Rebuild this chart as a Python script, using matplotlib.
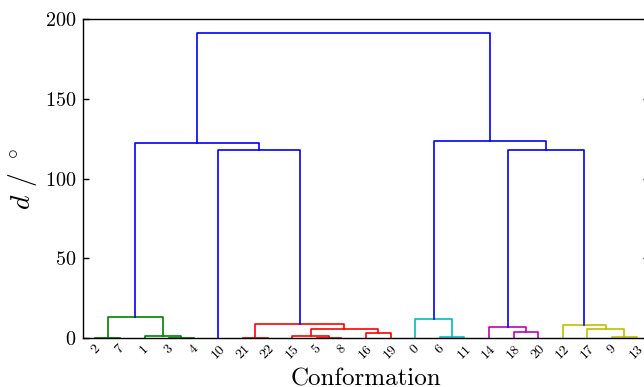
import matplotlib
matplotlib.use("Agg")
import matplotlib.pyplot as plt

plt.rcParams['font.family'] = 'serif'
plt.rcParams['font.serif'] = ['cmr10']
plt.rcParams['mathtext.fontset'] = 'cm'
plt.rcParams['axes.formatter.use_mathtext'] = True

# hierarchical clustering of 23 conformations (scipy-style linkage, ids >= 23 are merges)
n_leaves = 23
left_child = [2, 3, 1, 23, 21, 5, 15, 16, 29, 27, 10, 26,
              6, 0, 18, 14, 9, 17, 12, 38, 36, 34]
right_child = [7, 4, 24, 25, 22, 8, 28, 19, 30, 31, 32, 33,
               11, 35, 20, 37, 13, 39, 40, 41, 42, 43]
heights = [0.4, 0.4, 1.6, 13.2, 0.4, 0.4, 1.6, 3.5, 5.9, 9.2, 117.9, 122.3,
           0.8, 12.4, 3.8, 6.9, 0.8, 5.7, 8.2, 117.9, 123.6, 191.4]
threshold = 100
palette = [(0, 0.5, 0), (1, 0, 0), (0, 0.75, 0.75), (0.75, 0, 0.75), (0.75, 0.75, 0)]
above_color = (0, 0, 1)

root = n_leaves + len(heights) - 1

# leaf order from a left-to-right walk
order = []
def walk(node):
    if node < n_leaves:
        order.append(node)
    else:
        k = node - n_leaves
        walk(left_child[k])
        walk(right_child[k])
walk(root)

xpos = {leaf: 5 + 10 * i for i, leaf in enumerate(order)}
ypos = {leaf: 0.0 for leaf in order}

fig = plt.figure(figsize=(6.44, 3.87), dpi=100)
ax = fig.add_axes([83 / 644, 1 - 338.3 / 387, 566 / 644, (338.3 - 19) / 387])

color_idx = [0]
def draw(node, color):
    if node < n_leaves:
        return
    k = node - n_leaves
    h = heights[k]
    if color is None and h < threshold:
        color = palette[color_idx[0] % len(palette)]
        color_idx[0] += 1
    a, b = left_child[k], right_child[k]
    draw(a, color)
    draw(b, color)
    xpos[node] = (xpos[a] + xpos[b]) / 2
    ypos[node] = h
    c = color if color is not None else above_color
    ax.plot([xpos[a], xpos[a], xpos[b], xpos[b]],
            [ypos[a], h, h, ypos[b]], color=c, lw=1.2, zorder=2)

draw(root, None)

ax.set_xlim(0, 10 * n_leaves)
ax.set_ylim(0, 200)
ax.set_yticks([0, 50, 100, 150, 200])
ax.set_xticks([5 + 10 * i for i in range(n_leaves)])
ax.set_xticklabels([str(l) for l in order], rotation=45, fontsize=10)
ax.tick_params(axis='x', length=0, pad=3)
ax.tick_params(axis='y', direction='in', length=4, width=1, labelsize=14.5, pad=5,
               right=True)
for s in ax.spines.values():
    s.set_linewidth(1.0)

ax.set_xlabel('Conformation', fontsize=18, labelpad=5)
ax.set_ylabel(r'$d$ / $^\circ$', fontsize=20)
ax.yaxis.set_label_coords(-0.077, 0.5)

fig.savefig('out.png', dpi=100)
